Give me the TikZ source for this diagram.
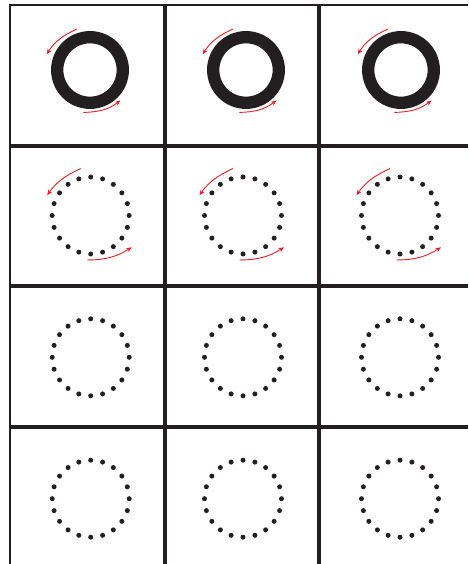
\documentclass[tikz,border=0pt]{standalone}
\usetikzlibrary{arrows.meta}
\definecolor{ink}{HTML}{231F20}
\definecolor{arr}{HTML}{ED1C24}
\begin{document}
\begin{tikzpicture}[x=1pt,y=1pt,
  gridout/.style={line width=2pt, draw=ink},
  gridin/.style={line width=3.2pt, draw=ink},
  ringstyle/.style={draw=ink, line width=12.3pt},
  dotstyle/.style={fill=ink},
  rot/.style={draw=arr, line width=0.9pt, -{Stealth[length=5.5pt,width=4.5pt]}}]
\useasboundingbox (0,0) rectangle (468,564);
\fill[white] (0,0) rectangle (468,564);
% grid
\draw[gridout] (10,0) -- (10,559) -- (468,559);
\foreach \x in {165,319} \draw[gridin] (\x,0) -- (\x,559);
\foreach \y in {418,278,137} \draw[gridin] (10,\y) -- (468,\y);
% row 1: solid rings
\foreach \x/\n in {90/a,246/b,401/c} {
  \coordinate (r\n) at (\x,494);
  \draw[ringstyle] (r\n) circle[radius=32.8];
  \coordinate (r\n u1) at ([shift={(108:43)}]r\n);
  \coordinate (r\n u2) at ([shift={(160:46)}]r\n);
  \coordinate (r\n l1) at ([shift={(-99:43)}]r\n);
  \coordinate (r\n l2) at ([shift={(-45:43)}]r\n);
  \draw[rot] (r\n u1) to[out=205,in=58] (r\n u2);
  \draw[rot] (r\n l1) to[out=2,in=-142] (r\n l2);
}
% rows 2-4: dotted rings
\foreach \y/\m in {348.5/p,206.7/q,65.3/s} {
  \foreach \x/\n in {90.7/a,243/b,400/c} {
    \coordinate (d\m\n) at (\x,\y);
    \foreach \k in {0,...,19}
      \fill[dotstyle] ([shift={(\k*18:38.5)}]d\m\n) circle[radius=2.5];
  }
}
% row 2 arrows
\foreach \n in {a,b,c} {
  \coordinate (dp\n u1) at ([shift={(102:48)}]dp\n);
  \coordinate (dp\n u2) at ([shift={(155:48)}]dp\n);
  \coordinate (dp\n l1) at ([shift={(-94.4:44.6)}]dp\n);
  \coordinate (dp\n l2) at ([shift={(-37.8:51.9)}]dp\n);
  \draw[rot] (dp\n u1) to[out=205,in=55] (dp\n u2);
  \draw[rot] (dp\n l1) to[out=0,in=-148] (dp\n l2);
}
\end{tikzpicture}
\end{document}
